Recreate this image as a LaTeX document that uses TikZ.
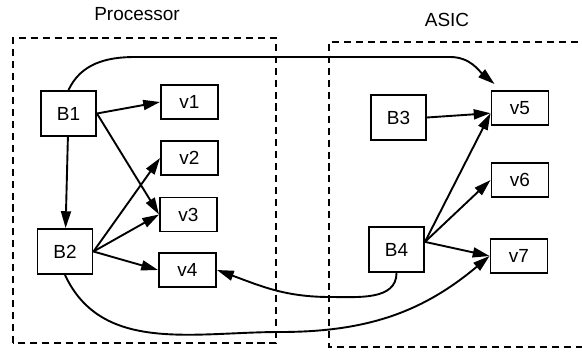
\documentclass[tikz,border=0pt]{standalone}
\usepackage{fontspec}
\setmainfont{Liberation Sans}
\usetikzlibrary{arrows.meta}

\begin{document}
\begin{tikzpicture}[x=0.025cm, y=0.025cm, line width=1.35pt,
    font=\fontsize{13.5}{16}\selectfont,
    blk/.style={draw, minimum width=1.375cm, minimum height=1.125cm, inner sep=0pt},
    var/.style={draw, minimum width=1.425cm, minimum height=0.85cm, inner sep=0pt},
    part/.style={dash pattern=on 5pt off 3.5pt},
    arr/.style={-{Triangle[length=4.2mm, width=2.5mm]}}]
  \useasboundingbox (0,0) rectangle (582,355);

  % partitions
  \draw[part] (13,12) rectangle (276,317);
  \draw[part] (590,313) -| (329,8) -- (590,8);
  \node (proc) at (137,341) {Processor};
  \node (asic) at (447,335) {ASIC};

  % blocks and variables
  \node[blk] (B1) at (68.5,241.5) {B1};
  \node[blk] (B2) at (65,103.5) {B2};
  \node[blk] (B3) at (398.5,237.5) {B3};
  \node[blk] (B4) at (396.5,105.5) {B4};
  \node[var] (v1) at (189.5,253) {v1};
  \node[var] (v2) at (189.5,197) {v2};
  \node[var] (v3) at (188.5,140.5) {v3};
  \node[var] (v4) at (187.5,85) {v4};
  \node[var] (v5) at (520,247) {v5};
  \node[var] (v6) at (520,175) {v6};
  \node[var] (v7) at (519,99) {v7};

  \path[arr]
    (B1) edge (B2)
    (B1.east) edge (v1.west)
              edge (v3.west)
    (B2.east) edge (v2.west)
              edge (v3.west)
              edge (v4.west)
    (B3.east) edge (v5.190)
    (B4.15) edge (v5.190)
            edge (v6.west)
            edge (v7.west);

  % across the partitions
  \draw[arr] (B1.north) to[out=65, in=180] (135,298) -- (450,298)
    to[out=0, in=140] ([shift={(4,6)}]v5.north west);
  \draw[arr] (B2.south) to[out=-65, in=180] (280,23)
    to[out=0, in=-140] (v7.west);
  \draw[arr] (B4.south) to[out=-90, in=0] (330,58)
    to[out=180, in=-20] (v4.east);
\end{tikzpicture}
\end{document}
